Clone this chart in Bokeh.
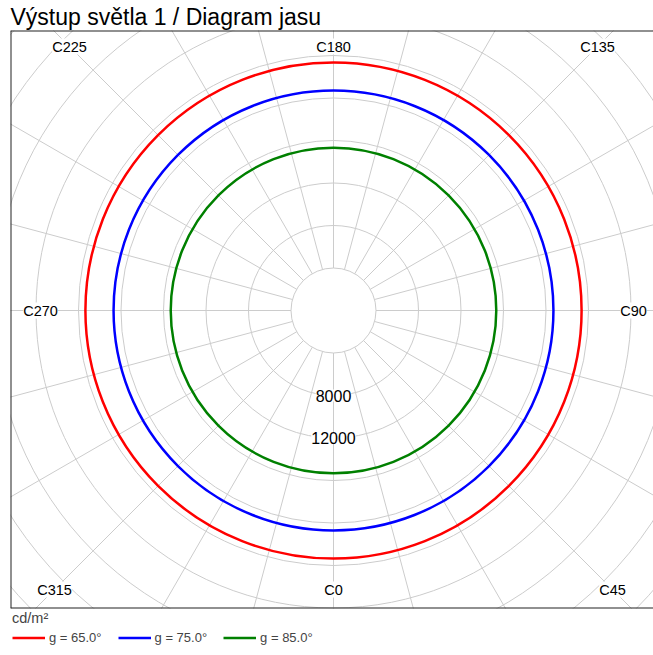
import numpy as np
from bokeh.plotting import figure
from bokeh.models import ColumnDataSource, LabelSet, Legend, LegendItem, Span
from bokeh.embed import file_html
from bokeh.resources import INLINE
from bokeh.core.properties import value

# ---------------- data ----------------
title_text = "Výstup světla 1 / Diagram jasu"
unit_label = "cd/m²"
g_angles = [65.0, 75.0, 85.0]
luminance = [23350, 20700, 15320]          # cd/m², same in every C plane
series_colors = ["#ff0000", "#0000ff", "#008000"]
c_grid = list(range(0, 360, 15))            # C planes of the grid
c_labels = [0, 45, 90, 135, 180, 225, 270, 315]
r_grid = list(range(4000, 48001, 4000))     # grid circles (cd/m²)
r_labels = [8000, 12000]

# ---------------- layout ----------------
PX = 4000 / 42.5            # cd/m² per pixel
LEFT = 10                   # frame left (px)
FW = 653 - LEFT             # frame width
TITLE_H = 31                # expected title panel height
FH = 609 - TITLE_H          # frame height
CX = 333 - LEFT             # centre from frame left (px)
CY_TOP = 311 - TITLE_H      # centre from frame top (px)

x0, x1 = -CX * PX, (FW - CX) * PX
y1, y0 = CY_TOP * PX, -(FH - CY_TOP) * PX

FONT = "Liberation Sans"

p = figure(frame_width=FW, frame_height=FH, x_range=(x0, x1), y_range=(y0, y1),
           x_axis_type=None, y_axis_type=None, toolbar_location=None,
           output_backend="svg", min_border_left=LEFT, min_border_right=0,
           min_border_top=0, min_border_bottom=0, outline_line_color=None,
           background_fill_color="white", border_fill_color="white")

p.title.text = title_text
p.title.text_font = FONT
p.title.text_font_size = "23px"
p.title.text_font_style = "normal"
p.title.text_color = "#000000"
p.title.standoff = 2
p.title.offset = 0

GRID = "#cccccc"

# grid circles
p.circle(x=[0] * len(r_grid), y=[0] * len(r_grid), radius=r_grid,
         fill_color=None, line_color=GRID, line_width=1)

# radial grid lines (C planes), C0 at bottom, counter-clockwise
th = np.deg2rad(np.array(c_grid) - 90.0)
r_in, r_out = r_grid[0], r_grid[-1]
p.segment(x0=r_in * np.cos(th), y0=r_in * np.sin(th),
          x1=r_out * np.cos(th), y1=r_out * np.sin(th),
          line_color=GRID, line_width=1)

# luminance curves
legend_items = []
for g, lum, col in zip(g_angles, luminance, series_colors):
    src = ColumnDataSource(dict(x=[0], y=[0], r=[lum]))
    p.circle(x="x", y="y", radius="r", source=src, fill_color=None,
             line_color=col, line_width=2.5)
    proxy = p.line(x=[np.nan, np.nan], y=[np.nan, np.nan], line_color=col,
                   line_width=2.5)
    legend_items.append(LegendItem(label=f"g = {g:.1f}°", renderers=[proxy]))

# radial value labels
vsrc = ColumnDataSource(dict(x=[0] * len(r_labels), y=[-r for r in r_labels],
                             t=[str(r) for r in r_labels]))
p.add_layout(LabelSet(x="x", y="y", text="t", source=vsrc, text_align="center",
                      text_baseline="middle", text_font=value(FONT),
                      text_font_size="16px", text_color="#000000",
                      background_fill_color="white"))

# C-plane labels placed along the ray, clamped to an inset rectangle
ins_l, ins_r, ins_t, ins_b = 30, 20, 16, 19
lx, ly, lt = [], [], []
for c in c_labels:
    a = np.deg2rad(c - 90.0)
    dx, dy = np.cos(a), np.sin(a)
    ts = []
    if dx > 1e-9:
        ts.append((FW - CX - ins_r) / dx)
    if dx < -1e-9:
        ts.append((CX - ins_l) / -dx)
    if dy > 1e-9:
        ts.append((CY_TOP - ins_t) / dy)
    if dy < -1e-9:
        ts.append((FH - CY_TOP - ins_b) / -dy)
    t = min(ts)
    lx.append(t * dx * PX)
    ly.append(t * dy * PX)
    lt.append(f"C{c}")
csrc = ColumnDataSource(dict(x=lx, y=ly, t=lt))
p.add_layout(LabelSet(x="x", y="y", text="t", source=csrc, text_align="center",
                      text_baseline="middle", text_font=value(FONT),
                      text_font_size="14.5px", text_color="#000000",
                      background_fill_color="white"))

# box border (left, top, bottom)
BORDER = "#222222"
p.add_layout(Span(location=x0, dimension="height", line_color=BORDER, line_width=2))
p.add_layout(Span(location=y1, dimension="width", line_color=BORDER, line_width=2))
p.add_layout(Span(location=y0, dimension="width", line_color=BORDER, line_width=2))

legend = Legend(items=legend_items, orientation="horizontal", location="top_left",
                title=unit_label, title_text_font=FONT, title_text_font_size="14.5px",
                title_text_font_style="normal", title_standoff=4,
                label_text_font=FONT, label_text_font_size="13px",
                glyph_width=33, glyph_height=15, label_height=15,
                label_standoff=4, spacing=16, padding=3, margin=2,
                border_line_color=None, background_fill_alpha=0)
p.add_layout(legend, "below")

open("out.html", "w").write(file_html(p, INLINE))
